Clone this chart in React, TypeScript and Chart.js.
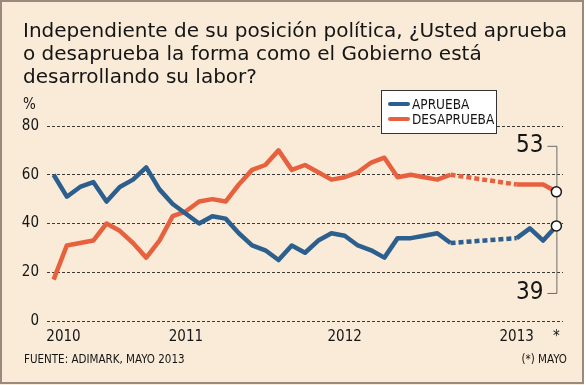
import { useEffect, useRef } from 'react';
import { Chart, registerables } from 'chart.js';

Chart.register(...registerables);

// Monthly surveys, March 2010 .. May 2013
const months = [
  'Mar 2010', 'Abr 2010', 'May 2010', 'Jun 2010', 'Jul 2010', 'Ago 2010', 'Sep 2010', 'Oct 2010', 'Nov 2010', 'Dic 2010',
  'Ene 2011', 'Feb 2011', 'Mar 2011', 'Abr 2011', 'May 2011', 'Jun 2011', 'Jul 2011', 'Ago 2011', 'Sep 2011', 'Oct 2011', 'Nov 2011', 'Dic 2011',
  'Ene 2012', 'Feb 2012', 'Mar 2012', 'Abr 2012', 'May 2012', 'Jun 2012', 'Jul 2012', 'Ago 2012', 'Sep 2012', 'Oct 2012', 'Nov 2012', 'Dic 2012',
  'Ene 2013', 'Feb 2013', 'Mar 2013', 'Abr 2013', 'May 2013',
];
const aprueba = [60, 51, 55, 57, 49, 55, 58, 63, 54, 48, 44, 40, 43, 42, 36, 31, 29, 25, 31, 28, 33, 36, 35, 31, 29, 26, 34, 34, 35, 36, 32, null, null, null, null, 34, 38, 33, 39];
const desaprueba = [17, 31, 32, 33, 40, 37, 32, 26, 33, 43, 45, 49, 50, 49, 56, 62, 64, 70, 62, 64, 61, 58, 59, 61, 65, 67, 59, 60, 59, 58, 60, null, null, null, null, 56, 56, 56, 53];
const yearTickPositions = [0.75, 10, 22, 35, 38];
const yearTickLabels = ['2010', '2011', '2012', '2013', '*'];
const seriesNames = ['APRUEBA', 'DESAPRUEBA'];
const titleLines = [
  'Independiente de su posición política, ¿Usted aprueba',
  'o desaprueba la forma como el Gobierno está',
  'desarrollando su labor?',
];
const sourceText = 'FUENTE: ADIMARK, MAYO 2013';
const noteText = '(*) MAYO';

const FONT = '"DejaVu Sans Condensed", "DejaVu Sans", sans-serif';
const TITLE_FONT = '"DejaVu Sans", sans-serif';
const BLUE = '#2d5f8e';
const ORANGE = '#e8613e';
const BG = '#f9ebd8';
const TEXT = '#151515';

export default function App() {
  const ref = useRef<HTMLCanvasElement>(null);

  useEffect(() => {
    document.body.style.margin = '0';
    const canvas = ref.current;
    if (!canvas) return;
    const last = months.length - 1;

    const dashFor = (series: (number | null)[]) => (ctx: any) =>
      series[ctx.p0DataIndex] == null ||
      series[ctx.p1DataIndex] == null ||
      ctx.p1DataIndex - ctx.p0DataIndex > 1 ||
      ctx.p0.skip || ctx.p1.skip
        ? [5, 3]
        : undefined;

    const decor = {
      id: 'decor',
      beforeDraw(chart: any) {
        const c = chart.ctx;
        c.save();
        c.fillStyle = BG;
        c.fillRect(0, 0, 584, 385);
        c.strokeStyle = '#9c887c';
        c.lineWidth = 2;
        c.strokeRect(1, 1, 582, 382);
        c.fillStyle = TEXT;
        c.textBaseline = 'alphabetic';
        c.textAlign = 'left';
        c.font = `20px ${TITLE_FONT}`;
        titleLines.forEach((t, i) => c.fillText(t, 23, 37 + i * 23));
        c.font = `15px ${FONT}`;
        c.fillText('%', 23, 109);
        c.font = `11.5px ${FONT}`;
        c.fillText(sourceText, 24, 363);
        c.textAlign = 'right';
        c.fillText(noteText, 567, 363);
        c.restore();
      },
      beforeDatasetsDraw(chart: any) {
        const c = chart.ctx;
        const x = chart.scales.x.getPixelForValue(last);
        const yTop = chart.scales.y.getPixelForValue(desaprueba[last] as number) - 46;
        const yBot = chart.scales.y.getPixelForValue(aprueba[last] as number) + 67;
        c.save();
        c.strokeStyle = '#6a6a6a';
        c.lineWidth = 1;
        c.beginPath();
        c.moveTo(x - 9, yTop + 0.5);
        c.lineTo(x + 0.5, yTop + 0.5);
        c.lineTo(x + 0.5, yBot + 0.5);
        c.lineTo(x - 9, yBot + 0.5);
        c.stroke();
        c.restore();
      },
      afterDatasetsDraw(chart: any) {
        const c = chart.ctx;
        const x = chart.scales.x.getPixelForValue(last);
        const yTop = chart.scales.y.getPixelForValue(desaprueba[last] as number) - 46;
        const yBot = chart.scales.y.getPixelForValue(aprueba[last] as number) + 67;
        c.save();
        c.fillStyle = TEXT;
        c.font = `24px ${FONT}`;
        c.textAlign = 'right';
        c.textBaseline = 'middle';
        c.fillText(String(desaprueba[last]), x - 13, yTop);
        c.fillText(String(aprueba[last]), x - 13, yBot);

        // legend
        const lx = 381, ly = 90, lw = 115, lh = 43;
        c.fillStyle = '#ffffff';
        c.fillRect(lx, ly, lw, lh);
        c.strokeStyle = '#333333';
        c.lineWidth = 1;
        c.strokeRect(lx + 0.5, ly + 0.5, lw, lh);
        const colors = [BLUE, ORANGE];
        c.font = `13.5px ${FONT}`;
        c.textAlign = 'left';
        c.textBaseline = 'middle';
        seriesNames.forEach((name, i) => {
          const yy = ly + 14 + i * 15;
          c.strokeStyle = colors[i];
          c.lineWidth = 4;
          c.lineCap = 'round';
          c.beginPath();
          c.moveTo(lx + 9, yy);
          c.lineTo(lx + 27, yy);
          c.stroke();
          c.fillStyle = TEXT;
          c.fillText(name, lx + 31, yy + 1);
        });
        c.restore();
      },
    };

    const mk = (series: (number | null)[], color: string, label: string) => ({
      label,
      data: series.map((v, i) => ({ x: i, y: v })),
      borderColor: color,
      backgroundColor: color,
      borderWidth: 4.5,
      borderJoinStyle: 'round' as const,
      borderCapStyle: 'butt' as const,
      spanGaps: true,
      tension: 0,
      pointRadius: (ctx: any) => (ctx.dataIndex === last ? 5 : 0),
      pointHoverRadius: 0,
      pointBackgroundColor: '#ffffff',
      pointBorderColor: '#1a1a1a',
      pointBorderWidth: 1.5,
      segment: { borderDash: dashFor(series) },
    });

    const chart = new Chart(canvas, {
      type: 'line',
      data: {
        datasets: [mk(aprueba, BLUE, seriesNames[0]), mk(desaprueba, ORANGE, seriesNames[1])],
      },
      options: {
        animation: false,
        responsive: false,
        devicePixelRatio: 1,
        layout: { padding: { top: 126, right: 23, bottom: 34, left: 0 } },
        plugins: { legend: { display: false }, tooltip: { enabled: false }, title: { display: false } },
        scales: {
          x: {
            type: 'linear',
            min: -0.5,
            max: 38.5,
            afterBuildTicks: (s: any) => {
              s.ticks = yearTickPositions.map((v) => ({ value: v }));
            },
            afterFit: (s: any) => {
              s.height = 30;
            },
            grid: { display: false, drawTicks: false },
            border: { display: false },
            ticks: {
              autoSkip: false,
              maxRotation: 0,
              padding: 7,
              color: TEXT,
              font: { size: 15, family: FONT },
              callback: (v: any) => {
                const i = yearTickPositions.indexOf(Number(v));
                return i >= 0 ? yearTickLabels[i] : '';
              },
            },
          },
          y: {
            min: 0,
            max: 80,
            afterFit: (s: any) => {
              s.width = 47;
            },
            grid: { color: '#3a3a3a', lineWidth: 1, drawTicks: false },
            border: { display: false, dash: [3, 2] },
            ticks: {
              stepSize: 20,
              padding: 8,
              color: TEXT,
              font: { size: 15, family: FONT },
            },
          },
        },
      },
      plugins: [decor],
    });

    return () => chart.destroy();
  }, []);

  return (
    <div style={{ width: 586, height: 385, background: '#ffffff' }}>
      <canvas ref={ref} width={586} height={385} style={{ display: 'block' }} />
    </div>
  );
}
